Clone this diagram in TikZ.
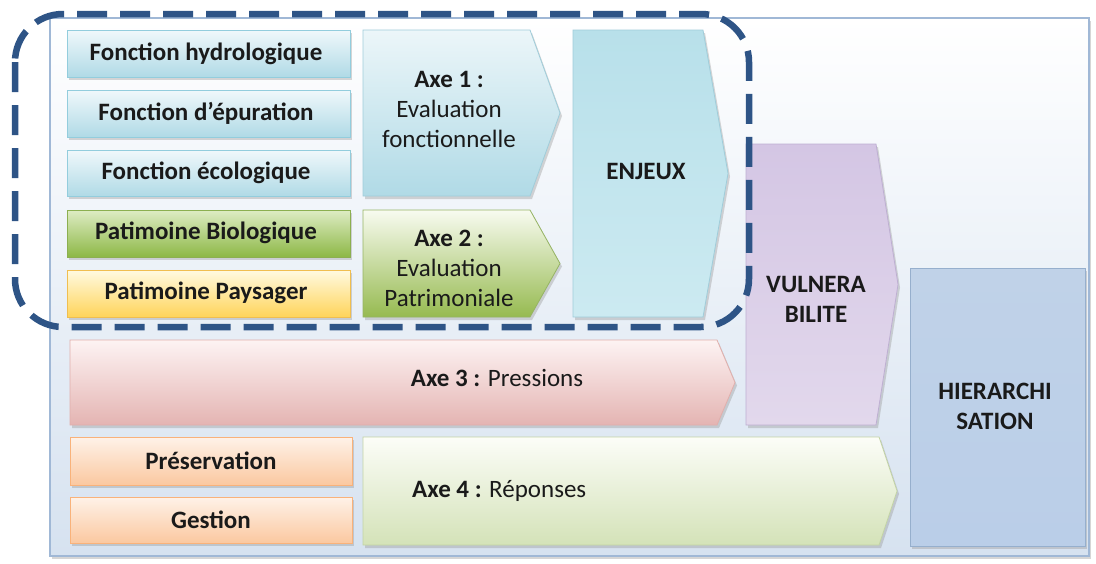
\documentclass[tikz,border=0pt]{standalone}
\usepackage{fontspec}
\setmainfont{Carlito}
\usetikzlibrary{shadows}
\definecolor{txt}{HTML}{1A1A1A}
\definecolor{dashblue}{HTML}{2E5486}
\tikzset{
  shd/.style={drop shadow={shadow xshift=2pt,shadow yshift=-3pt,fill=black!40,opacity=.4}},
  outerbox/.style={top color={rgb,255:red,255;green,255;blue,255},bottom color={rgb,255:red,214;green,226;blue,240},draw={rgb,255:red,160;green,184;blue,214},line width=1.4pt,shd},
  bluebox/.style={top color={rgb,255:red,240;green,248;blue,251},bottom color={rgb,255:red,176;green,218;blue,230},draw={rgb,255:red,147;green,205;blue,221},line width=0.8pt,shd},
  greenbox/.style={top color={rgb,255:red,222;green,236;blue,196},bottom color={rgb,255:red,141;green,184;blue,70},draw={rgb,255:red,140;green,175;blue,80},line width=0.8pt,shd},
  yellowbox/.style={top color={rgb,255:red,255;green,250;blue,225},bottom color={rgb,255:red,255;green,212;blue,90},draw={rgb,255:red,240;green,190;blue,80},line width=0.8pt,shd},
  peachbox/.style={top color={rgb,255:red,254;green,242;blue,232},bottom color={rgb,255:red,251;green,200;blue,160},draw={rgb,255:red,249;green,178;blue,122},line width=0.8pt,shd},
  ax1/.style={top color={rgb,255:red,236;green,246;blue,249},bottom color={rgb,255:red,176;green,218;blue,230},draw={rgb,255:red,160;green,205;blue,218},line width=0.8pt,shd},
  ax2/.style={top color={rgb,255:red,248;green,251;blue,240},bottom color={rgb,255:red,150;green,186;blue,80},draw={rgb,255:red,150;green,180;blue,100},line width=0.8pt,shd},
  enj/.style={top color={rgb,255:red,184;green,224;blue,234},bottom color={rgb,255:red,204;green,234;blue,241},draw={rgb,255:red,160;green,205;blue,218},line width=0.8pt,shd},
  vul/.style={top color={rgb,255:red,212;green,198;blue,228},bottom color={rgb,255:red,226;green,216;blue,236},draw={rgb,255:red,190;green,175;blue,210},line width=0.8pt,shd},
  hier/.style={top color={rgb,255:red,192;green,210;blue,232},bottom color={rgb,255:red,186;green,206;blue,232},draw={rgb,255:red,150;green,175;blue,205},line width=0.8pt,shd},
  ax3/.style={top color={rgb,255:red,253;green,243;blue,243},bottom color={rgb,255:red,228;green,180;blue,178},draw={rgb,255:red,225;green,175;blue,172},line width=0.8pt,shd},
  ax4/.style={top color={rgb,255:red,252;green,253;blue,248},bottom color={rgb,255:red,212;green,226;blue,184},draw={rgb,255:red,195;green,212;blue,165},line width=0.8pt,shd},
  lbl/.style={text=txt,font=\fontsize{25}{30}\selectfont\bfseries,align=center,inner sep=0pt},
  rlbl/.style={text=txt,font=\fontsize{25}{30}\selectfont,align=center,inner sep=0pt},
  dashframe/.style={draw=dashblue,line width=6.5pt,dash pattern=on 30pt off 13pt,rounded corners=48pt}
}
\newcommand\arrowpath[6]{% style, x1,y1,x2,y2,notch
  \path[#1] (#2,#3) -- ({#4-#6},#3) -- (#4,{(#3+#5)/2}) -- ({#4-#6},#5) -- (#2,#5) -- cycle;}
\begin{document}
\begin{tikzpicture}[x=1pt,y=-1pt]
\useasboundingbox (0,0) rectangle (1096,563);
\fill[white] (0,0) rectangle (1096,563);
% outer container
\path[outerbox] (50,18) rectangle (1089,556);
% left boxes
\path[bluebox] (67,30) rectangle (350,77);
\path[bluebox] (67,90) rectangle (350,137);
\path[bluebox] (67,150) rectangle (350,196);
\path[greenbox] (67,210) rectangle (350,257);
\path[yellowbox] (67,270) rectangle (350,317);
\node[lbl] (fh) at (206,54) {Fonction hydrologique};
\node[lbl] (fe) at (206,113) {Fonction d’épuration};
\node[lbl] (fc) at (206,173) {Fonction écologique};
\node[lbl] (pb) at (206,233) {Patimoine Biologique};
\node[lbl] (pp) at (206,293) {Patimoine Paysager};
% axes 1,2
\arrowpath{ax1}{363}{30}{560}{196}{30}
\arrowpath{ax2}{363}{210}{560}{317}{30}
\node[rlbl] (a1) at (449,109) {\textbf{Axe 1 :}\\Evaluation\\fonctionnelle};
\node[rlbl] (a2) at (449,268) {\textbf{Axe 2 :}\\Evaluation\\Patrimoniale};
% enjeux
\arrowpath{enj}{573}{30}{728}{317}{25}
\node[lbl] (enjeux) at (646,171) {ENJEUX};
% vulnerabilite
\arrowpath{vul}{746}{144}{898}{425}{22}
\node[lbl] (vulner) at (816,299) {VULNERA\\BILITE};
% hierarchisation
\path[hier] (910,268) rectangle (1085,546);
\node[lbl] (hierar) at (995,406) {HIERARCHI\\SATION};
% axe 3
\arrowpath{ax3}{70}{340}{735}{425}{18}
\node[rlbl] (a3) at (497,378) {\textbf{Axe 3 :} Pressions};
% preservation / gestion
\path[peachbox] (70,437) rectangle (352,485);
\path[peachbox] (70,497) rectangle (352,543);
\node[lbl] (pres) at (211,461) {Préservation};
\node[lbl] (gest) at (211,520) {Gestion};
% axe 4
\arrowpath{ax4}{363}{437}{897}{545}{18}
\node[rlbl,anchor=west] (a4) at (412,491) {\textbf{Axe 4 :} Réponses};
% dashed frame
\draw[dashframe] (15,14) rectangle (749,327);
\end{tikzpicture}
\end{document}
